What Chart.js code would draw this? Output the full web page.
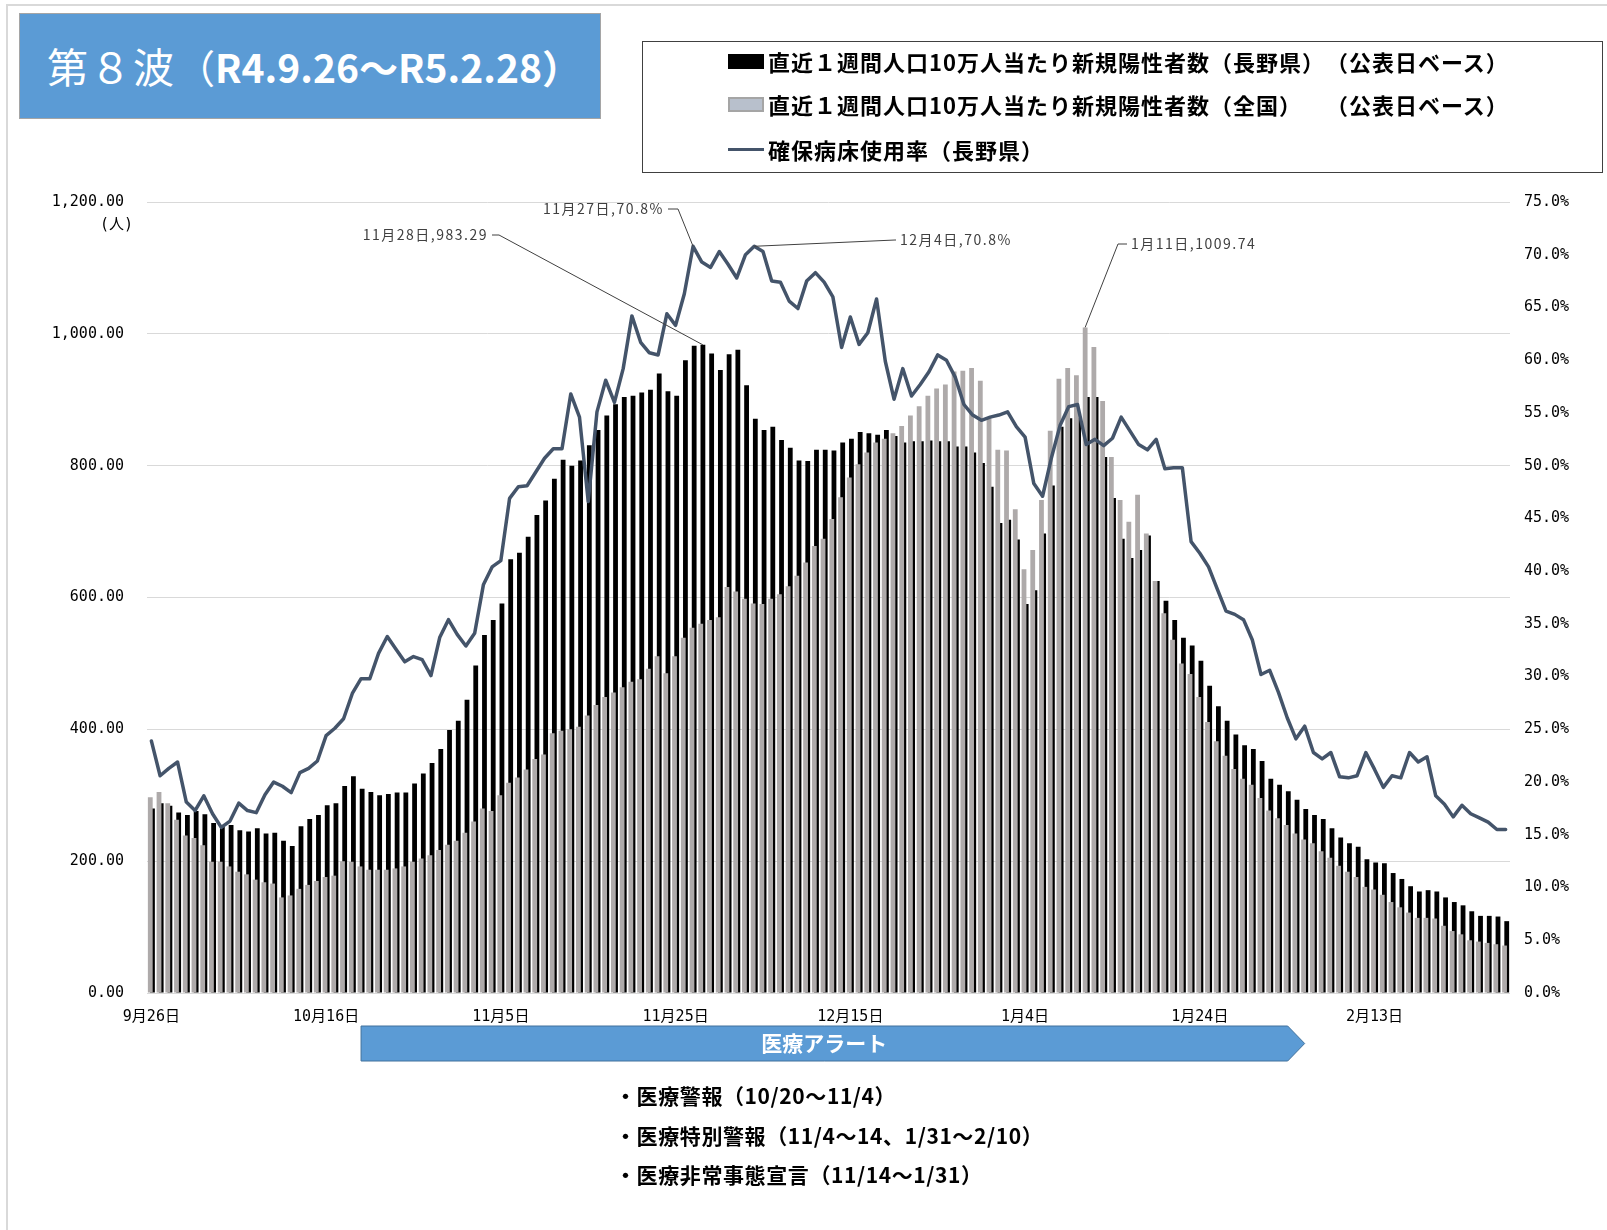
<!DOCTYPE html>
<html lang="ja">
<head>
<meta charset="utf-8">
<title>第８波（R4.9.26～R5.2.28）</title>
<script src="https://cdn.jsdelivr.net/npm/chart.js@4.4.1/dist/chart.umd.min.js"></script>
<style>
    html, body { margin: 0; padding: 0; background: #fff; }
    body { width: 1607px; height: 1230px; position: relative; overflow: hidden; font-family: "Noto Sans CJK JP", sans-serif; color: #000; }
    #frame { position: absolute; left: 6px; top: 4px; width: 1640px; height: 1260px; border-left: 2px solid #d9d9d9; border-top: 2px solid #d9d9d9; }
    #salesChart { position: absolute; left: 0; top: 0; }
    .title { position: absolute; left: 19px; top: 13px; width: 582px; height: 106px; background: #5b9bd5; border: 1px solid #a5a5a5; box-sizing: border-box; color: #fff; font-size: 39px; line-height: 102px; padding-left: 27px; white-space: nowrap; }
    .title .w { font-size: 41px; letter-spacing: 2px; }
    .title b { font-weight: 700; }
    .legend { position: absolute; left: 642px; top: 41px; width: 961px; height: 132px; border: 1px solid #404040; box-sizing: border-box; }
    .legend .row { position: absolute; left: 85px; height: 30px; display: flex; align-items: center; font-size: 22px; font-weight: 700; letter-spacing: 1px; white-space: pre; }
    .legend .sw { display: inline-block; width: 36px; margin-right: 4px; box-sizing: border-box; }
    .unit { position: absolute; right: 1474px; top: 212px; font-family: "DejaVu Sans Mono", "Noto Sans CJK JP", monospace; font-size: 15px; }
    .notes { position: absolute; left: 615px; top: 1076px; font-size: 21px; font-weight: 700; letter-spacing: 0.6px; line-height: 39.5px; white-space: pre; }
</style>
</head>
<body>
<div id="frame"></div>
<canvas id="salesChart" width="1607" height="1230"></canvas>

<div class="title"><span class="w">第８波</span>（<b>R4.9.26～R5.2.28）</b></div>

<div class="legend">
    <div class="row" style="top: 4px;"><span class="sw" style="height: 15px; background: #000;"></span>直近１週間人口10万人当たり新規陽性者数（長野県）　（公表日ベース）</div>
    <div class="row" style="top: 47px;"><span class="sw" style="height: 15px; background: #b8c0cc; border: 2px solid #a5a5a5;"></span>直近１週間人口10万人当たり新規陽性者数（全国）　　（公表日ベース）</div>
    <div class="row" style="top: 92px;"><span class="sw" style="height: 3px; background: #44546a;"></span>確保病床使用率（長野県）</div>
</div>

<div class="unit">(人)</div>

<div class="notes">・医療警報（10/20～11/4）
・医療特別警報（11/4～14、1/31～2/10）
・医療非常事態宣言（11/14～1/31）</div>

<script>
// categories: one label per day, 9/26 .. 2/28
const startDate = new Date(2022, 8, 26);
const dayCount = 156;
const dateLabels = [];
for (let i = 0; i < dayCount; i++) {
    const d = new Date(startDate);
    d.setDate(d.getDate() + i);
    dateLabels.push(d.getMonth() + 1 + "月" + d.getDate() + "日");
}

// only these dates get a label on the x axis
const tickLabels = ["9月26日", "10月16日", "11月5日", "11月25日", "12月15日", "1月4日", "1月24日", "2月13日"];

// 直近1週間人口10万人当たり新規陽性者数（長野県）
const naganoCases = [
    280, 288, 284, 274, 270, 276, 271, 258, 253, 255,
    247, 245, 250, 242, 243, 231, 223, 253, 264, 270,
    285, 288, 314, 329, 310, 305, 300, 302, 304, 304,
    318, 333, 349, 370, 399, 413, 445, 497, 543, 566,
    591, 658, 668, 692, 725, 747, 780, 809, 800, 808,
    831, 854, 876, 893, 904, 906, 911, 915, 940, 913,
    906, 960, 982, 983.29, 970, 945, 969, 976, 922, 871,
    854, 859, 839, 827, 808, 807, 824, 824, 823, 835,
    841, 851, 849, 847, 854, 845, 835, 837, 837, 838,
    837, 837, 829, 829, 820, 804, 768, 713, 718, 688,
    590, 611, 697, 770, 859, 872, 872, 904, 904, 813,
    751, 689, 660, 672, 694, 625, 595, 566, 539, 527,
    504, 466, 435, 413, 392, 376, 370, 352, 325, 316,
    306, 293, 279, 270, 264, 250, 236, 227, 222, 203,
    198, 197, 182, 173, 162, 154, 156, 154, 145, 138,
    133, 124, 117, 117, 116, 109
];

// 直近1週間人口10万人当たり新規陽性者数（全国）
const nationalCases = [
    297, 305, 288, 263, 239, 235, 224, 199, 199, 192,
    184, 180, 172, 168, 166, 145, 148, 158, 164, 170,
    176, 178, 200, 199, 192, 187, 187, 187, 189, 192,
    199, 204, 209, 217, 225, 231, 243, 260, 280, 276,
    300, 319, 327, 339, 355, 362, 394, 398, 400, 404,
    421, 437, 449, 456, 464, 472, 476, 492, 511, 485,
    511, 539, 554, 560, 566, 570, 616, 609, 598, 591,
    590, 598, 605, 617, 633, 653, 678, 689, 719, 752,
    782, 802, 820, 835, 841, 849, 860, 876, 890, 906,
    917, 923, 943, 944, 948, 929, 872, 824, 823, 734,
    643, 672, 748, 853, 932, 948, 937, 1009.74, 980, 898,
    813, 748, 715, 756, 697, 625, 576, 536, 500, 484,
    449, 411, 382, 360, 340, 325, 316, 296, 277, 265,
    255, 242, 233, 227, 215, 205, 193, 184, 176, 161,
    157, 149, 138, 130, 122, 114, 114, 113, 102, 94,
    89, 80, 78, 76, 74, 72
];

// 確保病床使用率（長野県）, %
const bedUsage = [
    23.9, 20.6, 21.3, 21.9, 18.1, 17.3, 18.7, 17.0, 15.7, 16.3,
    18.0, 17.3, 17.1, 18.8, 20.0, 19.6, 19.0, 20.9, 21.3, 22.0,
    24.4, 25.1, 26.0, 28.4, 29.8, 29.8, 32.2, 33.8, 32.6, 31.4,
    31.9, 31.6, 30.1, 33.7, 35.4, 34.0, 32.9, 34.1, 38.7, 40.4,
    41.0, 46.9, 48.0, 48.1, 49.4, 50.7, 51.6, 51.6, 56.8, 54.6,
    46.6, 55.1, 58.1, 56.0, 59.2, 64.2, 61.7, 60.7, 60.5, 64.4,
    63.3, 66.3, 70.8, 69.3, 68.8, 70.3, 69.1, 67.8, 70.0, 70.8,
    70.3, 67.5, 67.4, 65.6, 64.9, 67.5, 68.3, 67.4, 66.0, 61.2,
    64.1, 61.5, 62.6, 65.8, 59.9, 56.3, 59.2, 56.6, 57.7, 58.9,
    60.5, 60.0, 58.4, 55.8, 54.8, 54.3, 54.6, 54.8, 55.1, 53.7,
    52.7, 48.3, 47.1, 50.7, 53.8, 55.6, 55.8, 52.0, 52.5, 51.9,
    52.6, 54.6, 53.3, 52.0, 51.5, 52.5, 49.7, 49.8, 49.8, 42.8,
    41.7, 40.4, 38.3, 36.2, 35.9, 35.4, 33.5, 30.2, 30.6, 28.5,
    26.1, 24.1, 25.3, 22.8, 22.2, 22.8, 20.5, 20.4, 20.6, 22.8,
    21.2, 19.5, 20.6, 20.4, 22.8, 21.9, 22.4, 18.7, 17.9, 16.7,
    17.8, 17.0, 16.6, 16.2, 15.5, 15.5
];

const tickFont = { family: "'DejaVu Sans Mono', 'Noto Sans CJK JP', monospace", size: 15 };

// data labels with leader lines, and the 医療アラート arrow under the axis
const calloutPlugin = {
    id: "callouts",
    afterDatasetsDraw(chart) {
        const ctx = chart.ctx;
        const lineEls = chart.getDatasetMeta(0).data;
        const grayEls = chart.getDatasetMeta(1).data;
        const blackEls = chart.getDatasetMeta(2).data;
        const callouts = [
            { el: blackEls[63], text: dateLabels[63] + "," + naganoCases[63], x: 488, y: 235, align: "right", lx: 499 },
            { el: lineEls[62], text: dateLabels[62] + "," + bedUsage[62].toFixed(1) + "%", x: 664, y: 209, align: "right", lx: 678 },
            { el: lineEls[69], text: dateLabels[69] + "," + bedUsage[69].toFixed(1) + "%", x: 900, y: 240, align: "left", lx: 895 },
            { el: grayEls[107], text: dateLabels[107] + "," + nationalCases[107], x: 1131, y: 244, align: "left", lx: 1118 },
        ];
        ctx.save();
        ctx.font = "14px 'Noto Sans CJK JP'";
        if ("letterSpacing" in ctx) ctx.letterSpacing = "1.5px";
        ctx.fillStyle = "#404040";
        ctx.strokeStyle = "#404040";
        ctx.lineWidth = 1;
        ctx.textBaseline = "middle";
        callouts.forEach((c) => {
            ctx.textAlign = c.align;
            ctx.fillText(c.text, c.x, c.y);
            const sx = c.align === "right" ? c.x + 4 : c.x - 4;
            ctx.beginPath();
            ctx.moveTo(sx, c.y);
            ctx.lineTo(c.lx, c.y);
            ctx.lineTo(c.el.x, c.el.y);
            ctx.stroke();
        });
        ctx.restore();

        // 医療アラート arrow, from 10/20 to early February
        const xs = chart.scales.x;
        const x0 = xs.getPixelForValue(24);
        const tip = xs.getPixelForValue(132);
        const bodyEnd = tip - 17;
        const top = 1026, bottom = 1061;
        ctx.save();
        ctx.beginPath();
        ctx.moveTo(x0, top);
        ctx.lineTo(bodyEnd, top);
        ctx.lineTo(tip, (top + bottom) / 2);
        ctx.lineTo(bodyEnd, bottom);
        ctx.lineTo(x0, bottom);
        ctx.closePath();
        ctx.fillStyle = "#5b9bd5";
        ctx.fill();
        ctx.strokeStyle = "#41719c";
        ctx.lineWidth = 1;
        ctx.stroke();
        ctx.fillStyle = "#fff";
        ctx.font = "bold 21px 'Noto Sans CJK JP'";
        ctx.textAlign = "center";
        ctx.textBaseline = "middle";
        ctx.fillText("医療アラート", (x0 + bodyEnd) / 2, (top + bottom) / 2);
        ctx.restore();
    },
};

const ctx = document.getElementById("salesChart").getContext("2d");
new Chart(ctx, {
    type: "bar",
    data: {
        labels: dateLabels,
        datasets: [
            {
                type: "line",
                label: "確保病床使用率（長野県）",
                data: bedUsage,
                yAxisID: "y1",
                borderColor: "#44546a",
                borderWidth: 3.5,
                borderJoinStyle: "round",
                borderCapStyle: "round",
                pointRadius: 0,
                tension: 0,
                order: 0,
            },
            {
                label: "直近１週間人口10万人当たり新規陽性者数（全国）",
                data: nationalCases,
                backgroundColor: "#aeaaaa",
                categoryPercentage: 0.5,
                barPercentage: 2.2,
                order: 1,
            },
            {
                label: "直近１週間人口10万人当たり新規陽性者数（長野県）",
                data: naganoCases,
                backgroundColor: "#000000",
                categoryPercentage: 0.5,
                barPercentage: 2.2,
                order: 2,
            },
        ],
    },
    options: {
        responsive: false,
        animation: false,
        devicePixelRatio: 1,
        layout: { padding: { top: 202, bottom: 197, left: 0, right: 0 } },
        plugins: {
            legend: { display: false },
            tooltip: { enabled: false },
        },
        scales: {
            x: {
                grid: { display: false, drawTicks: false },
                border: { display: false },
                afterFit: (scale) => { scale.height = 40; },
                ticks: {
                    autoSkip: false,
                    maxRotation: 0,
                    padding: 15,
                    color: "#000",
                    font: tickFont,
                    callback: function (value) {
                        const l = this.getLabelForValue(value);
                        return tickLabels.includes(l) ? l : null;
                    },
                },
            },
            y: {
                min: 0,
                max: 1200,
                afterFit: (scale) => { scale.width = 147; },
                grid: { color: "#d9d9d9", drawTicks: false },
                border: { display: false },
                ticks: {
                    stepSize: 200,
                    padding: 23,
                    color: "#000",
                    font: tickFont,
                    callback: (v) => v.toLocaleString("en-US", { minimumFractionDigits: 2, maximumFractionDigits: 2 }),
                },
            },
            y1: {
                position: "right",
                min: 0,
                max: 75,
                afterFit: (scale) => { scale.width = 97; },
                grid: { display: false, drawTicks: false },
                border: { display: false },
                ticks: {
                    stepSize: 5,
                    padding: 14,
                    color: "#000",
                    font: tickFont,
                    callback: (v) => v.toFixed(1) + "%",
                },
            },
        },
    },
    plugins: [calloutPlugin],
});
</script>
</body>
</html>
